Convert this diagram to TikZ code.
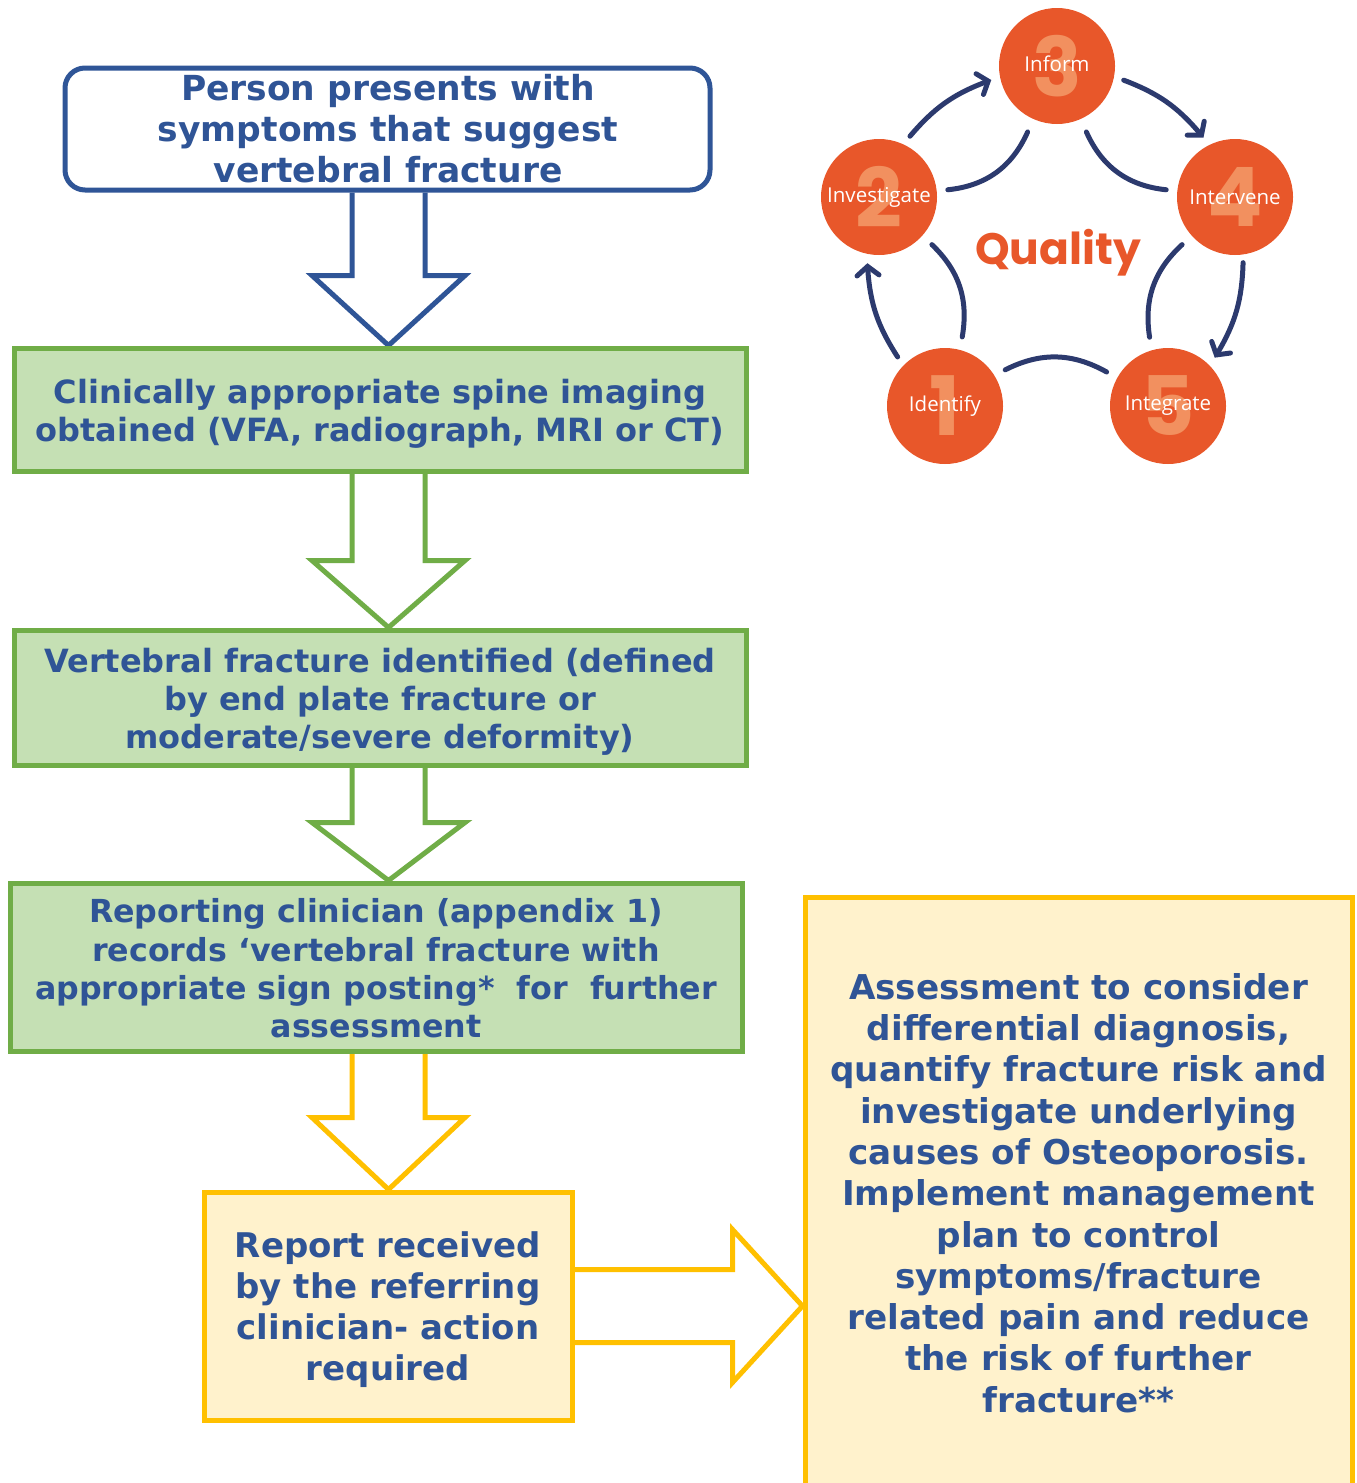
\documentclass[tikz,border=0pt]{standalone}
\usepackage{fontspec}
\setmainfont{DejaVu Sans}
\newfontfamily\qfont{Open Sans}
\newfontfamily\qbold{Poppins}
\usetikzlibrary{arrows.meta,calc,backgrounds,bending}
\definecolor{tblue}{HTML}{2F5496}
\definecolor{bborder}{HTML}{2F5597}
\definecolor{gborder}{HTML}{70AD47}
\definecolor{gfill}{HTML}{C5E0B4}
\definecolor{yborder}{HTML}{FFC000}
\definecolor{yfill}{HTML}{FFF2CC}
\definecolor{qorange}{HTML}{E8572A}
\definecolor{qnumc}{HTML}{F2905F}
\definecolor{qnavy}{HTML}{2C3A6E}
\tikzset{
  boxbase/.style={line width=5pt, inner sep=0pt},
  bluebox/.style={boxbase, draw=bborder, fill=white, rounded corners=20pt},
  greenbox/.style={boxbase, draw=gborder, fill=gfill},
  yellowbox/.style={boxbase, draw=yborder, fill=yfill},
  boxtext/.style={inner sep=0pt, align=center, text=tblue},
  blockarrow/.style={line width=5pt, fill=white, line join=miter},
  qcirc/.style={circle, fill=qorange, minimum size=116pt, inner sep=0pt},
  qnum/.style={text=qnumc, font=\qbold\bfseries\fontsize{82}{82}\selectfont, inner sep=0pt},
  qlab/.style={text=white, font=\qfont\fontsize{20.5}{20.5}\selectfont, inner sep=0pt},
  qarrow/.style={qnavy, line width=5pt, line cap=round, -{Straight Barb[length=9pt,width=22pt,line cap=round]}},
  qarc/.style={qnavy, line width=5pt, line cap=round},
}
\newcommand\blockdown[4]{%
  \draw[blockarrow, draw=#3]
    ($(ax |- #1.south)+(-36.5,0)$) -- ($(ax |- #2.north)+(-36.5,#4)$)
    -- ($(ax |- #2.north)+(-76.5,#4)$) -- (ax |- #2.north)
    -- ($(ax |- #2.north)+(76.5,#4)$) -- ($(ax |- #2.north)+(36.5,#4)$)
    -- ($(ax |- #1.south)+(36.5,0)$);
}
\begin{document}
\begin{tikzpicture}[x=1pt,y=1pt]
\useasboundingbox (0,0) rectangle (1357,-1483);
\coordinate (ax) at (388.5,0);

% flow boxes
\node[bluebox, minimum width=645pt, minimum height=122pt] (b1) at (387.5,-129) {};
\node[greenbox, minimum width=732pt, minimum height=123pt] (b2) at (380,-409.5) {};
\node[greenbox, minimum width=732pt, minimum height=135pt] (b3) at (380,-697.5) {};
\node[greenbox, minimum width=732pt, minimum height=168pt] (b4) at (376,-967) {};
\node[yellowbox, minimum width=368pt, minimum height=228pt] (b5) at (388,-1306) {};
\node[yellowbox, minimum width=547pt, minimum height=592pt] (b6) at (1078.5,-1193) {};

\node[boxtext, font=\bfseries\fontsize{34.5}{41}\selectfont] (t1) at ($(b1)+(0.5,0)$)
  {Person presents with\\symptoms that suggest\\vertebral fracture};
\node[boxtext, font=\bfseries\fontsize{32}{38}\selectfont] (t2) at ($(b2)+(0,-4)$)
  {Clinically appropriate spine imaging\\obtained (VFA, radiograph, MRI or CT)};
\node[boxtext, font=\bfseries\fontsize{32}{38}\selectfont] (t3) at ($(b3)+(0,-4)$)
  {Vertebral fracture identified (defined\\by end plate fracture or\\moderate/severe deformity)};
\node[boxtext, font=\bfseries\fontsize{31.7}{38.3}\selectfont] (t4) at ($(b4)+(0,-1.5)$)
  {Reporting clinician (appendix 1)\\records ‘vertebral fracture with\\appropriate sign posting*~~for~~further\\assessment};
\node[boxtext, font=\bfseries\fontsize{34}{41}\selectfont] (t5) at ($(b5)+(0,-4)$)
  {Report received\\by the referring\\clinician- action\\required};
\node[boxtext, font=\bfseries\fontsize{34.2}{41.3}\selectfont] (t6) at ($(b6)+(0,0)$)
  {Assessment to consider\\differential diagnosis,\\quantify fracture risk and\\investigate underlying\\causes of Osteoporosis.\\Implement management\\plan to control\\symptoms/fracture\\related pain and reduce\\the risk of further\\fracture**};

% block arrows
\begin{scope}[on background layer]
\blockdown{b1}{b2}{bborder}{70}
\blockdown{b2}{b3}{gborder}{67}
\blockdown{b3}{b4}{gborder}{58}
\blockdown{b4}{b5}{yborder}{72}
\draw[blockarrow, draw=yborder]
  ($(b5.east)+(0,36.5)$) -- ($(b6.west |- b5.east)+(-70,36.5)$)
  -- ($(b6.west |- b5.east)+(-70,76.5)$) -- (b6.west |- b5.east)
  -- ($(b6.west |- b5.east)+(-70,-76.5)$) -- ($(b6.west |- b5.east)+(-70,-36.5)$)
  -- ($(b5.east)+(0,-36.5)$);
\end{scope}

% quality cycle
\node[qcirc] (q3) at (1057,-66) {};
\node[qcirc] (q2) at (879,-197) {};
\node[qcirc] (q4) at (1235,-197) {};
\node[qcirc] (q1) at (945,-406) {};
\node[qcirc] (q5) at (1168,-406) {};
\node[qnum] (n3) at (q3) {3};
\node[qnum] (n2) at (q2) {2};
\node[qnum] (n4) at (q4) {4};
\node[qnum] (n1) at (q1) {1};
\node[qnum] (n5) at (q5) {5};
\node[qlab] (l3) at ($(q3)+(0,2)$) {Inform};
\node[qlab] (l2) at (q2) {Investigate};
\node[qlab] (l4) at (q4) {Intervene};
\node[qlab] (l1) at (q1) {Identify};
\node[qlab] (l5) at (q5) {Integrate};
\node[text=qorange, font=\qbold\bfseries\fontsize{44}{44}\selectfont, inner sep=0pt] (ql) at (1058,-253) {Quality};

\draw[qarrow] ($(q1.134)+(134:10)$) to[bend left=15] ($(q2.260.5)+(260.5:9)$);
\draw[qarrow] ($(q2.63)+(63:10)$) to[bend left=15] ($(q3.192)+(192:9)$);
\draw[qarrow] ($(q3.348)+(348:10)$) to[bend left=15] ($(q4.118)+(118:9)$);
\draw[qarrow] ($(q4.277)+(277:8)$) to[bend left=15] ($(q5.46)+(46:9)$);

\draw[qarc] ($(q2.6)+(6:11)$) to[bend right=30] ($(q3.246)+(246:14)$);
\draw[qarc] ($(q3.294)+(294:14)$) to[bend right=30] ($(q4.174)+(174:11)$);
\draw[qarc] ($(q4.222)+(222:13)$) to[bend right=28] ($(q5.105)+(105:13)$);
\draw[qarc] ($(q5.151)+(151:12)$) to[bend right=28] ($(q1.31)+(31:12)$);
\draw[qarc] ($(q1.76)+(76:13)$) to[bend right=28] ($(q2.318)+(318:13)$);
\end{tikzpicture}
\end{document}
